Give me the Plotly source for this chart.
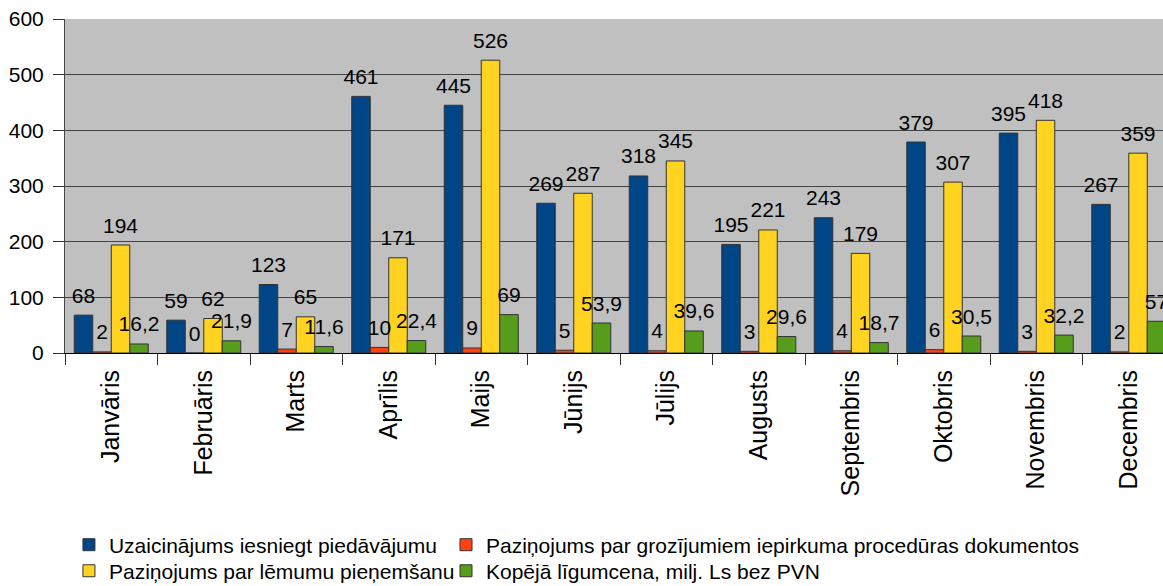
import plotly.graph_objects as go

months = ["Janvāris", "Februāris", "Marts", "Aprīlis", "Maijs", "Jūnijs",
          "Jūlijs", "Augusts", "Septembris", "Oktobris", "Novembris", "Decembris"]

series_names = [
    "Uzaicinājums iesniegt piedāvājumu",
    "Paziņojums par grozījumiem iepirkuma procedūras dokumentos",
    "Paziņojums par lēmumu pieņemšanu",
    "Kopējā līgumcena, milj. Ls bez PVN",
]
uzaicinajums = [68, 59, 123, 461, 445, 269, 318, 195, 243, 379, 395, 267]
grozijumi = [2, 0, 7, 10, 9, 5, 4, 3, 4, 6, 3, 2]
lemumi = [194, 62, 65, 171, 526, 287, 345, 221, 179, 307, 418, 359]
ligumcena = [16.2, 21.9, 11.6, 22.4, 69, 53.9, 39.6, 29.6, 18.7, 30.5, 32.2, 57]

colors = ["#004586", "#ff420e", "#ffd320", "#579d1c"]
legends = ["legend", "legend2", "legend3", "legend4"]
all_values = [uzaicinajums, grozijumi, lemumi, ligumcena]

FONT = "Liberation Sans, Arial, sans-serif"


def fmt(v):
    return ("%g" % v).replace(".", ",")


fig = go.Figure()
for name, vals, col, lg in zip(series_names, all_values, colors, legends):
    fig.add_trace(go.Bar(
        x=months, y=vals, name=name, legend=lg,
        marker=dict(color=col, line=dict(color="#333333", width=1)),
        hoverinfo="skip",
    ))
for name, vals in zip(series_names, all_values):
    fig.add_trace(go.Scatter(
        x=months, y=vals, mode="markers+text",
        text=[fmt(v) for v in vals], textposition="top center",
        textfont=dict(family=FONT, size=21, color="black"),
        marker=dict(size=10, color="rgba(0,0,0,0)"),
        showlegend=False, hoverinfo="skip", cliponaxis=False,
    ))

leg_common = dict(orientation="h", xanchor="left", yanchor="middle",
                  font=dict(size=21), bgcolor="rgba(0,0,0,0)")
col1_x, col2_x = 0.0036, 0.347
row1_y, row2_y = -0.575, -0.653

fig.update_layout(
    width=1163, height=586,
    margin=dict(l=65, r=0, t=19, b=233, autoexpand=False),
    barmode="group", bargap=0.2, bargroupgap=0,
    scattermode="group", scattergap=0.2,
    plot_bgcolor="#c0c0c0", paper_bgcolor="white",
    font=dict(family=FONT, size=21, color="black"),
    legend=dict(x=col1_x, y=row1_y, **leg_common),
    legend2=dict(x=col2_x, y=row1_y, **leg_common),
    legend3=dict(x=col1_x, y=row2_y, **leg_common),
    legend4=dict(x=col2_x, y=row2_y, **leg_common),
)
fig.update_xaxes(
    type="category", range=[-0.5, 11.37], automargin=False,
    tickangle=-90, tickson="boundaries", ticks="outside", ticklen=11,
    tickcolor="#333333", tickfont=dict(size=25), ticklabelstandoff=6,
    showline=True, linecolor="#000000", linewidth=1,
    showgrid=False,
)
fig.update_yaxes(
    range=[0, 600], dtick=100, ticks="outside", ticklen=11, tickcolor="#333333",
    tickfont=dict(size=21), automargin=False, ticklabelstandoff=5,
    showline=True, linecolor="#444444", linewidth=1,
    showgrid=True, gridcolor="#444444", gridwidth=1, zeroline=False,
)

fig.write_html("out.html", config={"displayModeBar": False},
               post_script="document.body.style.margin='0';")
